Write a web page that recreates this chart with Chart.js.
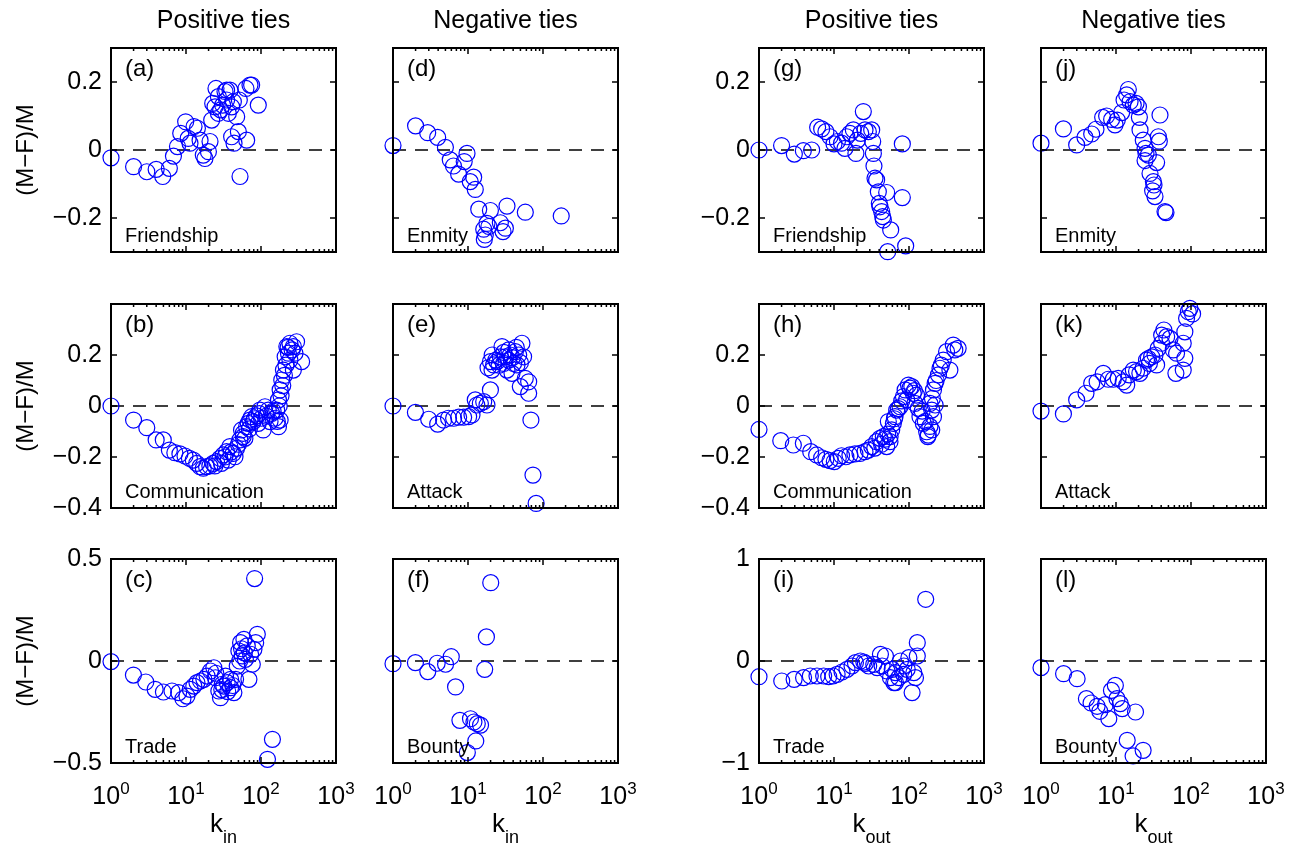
<!DOCTYPE html>
<html>
<head>
<meta charset="utf-8">
<script src="https://cdn.jsdelivr.net/npm/chart.js@4/dist/chart.umd.min.js"></script>
<style>
body { margin: 0; background: #fff; width: 1299px; height: 855px; position: relative; overflow: hidden; }
canvas { position: absolute; }
</style>
</head>
<body>
<script>
// ---- data ----
const xTicks = [1, 10, 100, 1000];
const zeroX = [1, 1000];
const zeroY = [0, 0];

// (a) friendship, k_in
const aX = [1, 2, 3, 4, 4.9, 6, 6.8, 7.7, 8.5, 9.9, 11.3, 10.7, 12.8, 14.2, 15.4, 17, 17.9, 19.9, 20.9, 22, 22.7, 25.1, 27, 29, 30.8, 33.1, 34.8, 36.7, 38.6, 40.6, 42.8, 47.4, 51.4, 40.6, 43.7, 49.9, 64.4, 52.5, 63, 71.3, 75, 92, 27, 24.4, 34.8];
const aY = [-0.023, -0.049, -0.064, -0.057, -0.078, -0.054, -0.018, 0.01, 0.049, 0.083, 0.02, 0.034, 0.069, 0.064, 0.029, -0.015, -0.025, -0.005, 0.025, 0.088, 0.137, 0.181, 0.157, 0.118, 0.132, 0.172, 0.147, 0.108, 0.176, 0.127, 0.142, 0.098, 0.147, 0.039, 0.02, 0.054, 0.029, -0.078, 0.181, 0.191, 0.191, 0.132, 0.108, 0.127, 0.176];
// (d) enmity, k_in
const dX = [1, 2, 2.9, 3.94, 5, 5.8, 6.4, 7.5, 8.9, 9.7, 10.7, 11.9, 12.5, 13.9, 16.2, 17, 16.5, 17.9, 19.9, 19, 27, 29.3, 31.5, 33.1, 58.1, 175];
const dY = [0.013, 0.071, 0.051, 0.037, 0.008, -0.029, -0.047, -0.071, -0.034, -0.01, -0.093, -0.08, -0.116, -0.174, -0.233, -0.25, -0.263, -0.216, -0.178, -0.225, -0.214, -0.24, -0.23, -0.165, -0.183, -0.194];
// (g) friendship, k_out
const gX = [1, 2, 2.96, 3.9, 5.04, 6.05, 6.85, 7.8, 8.85, 10, 11.1, 12.6, 14, 14.8, 16.3, 18.1, 19.6, 20.5, 22.7, 24.6, 25.9, 28.7, 31.8, 32.8, 33.5, 34.1, 35.2, 37, 39, 40.2, 41, 43.2, 44.6, 45.5, 50.4, 57, 52, 81.5, 81.5, 90.3];
const gY = [0, 0.013, -0.012, -0.002, 0, 0.067, 0.062, 0.054, 0.039, 0.018, 0.025, 0.02, 0.005, 0.039, 0.049, 0.059, -0.01, 0.029, 0.049, 0.113, 0.059, 0.054, 0.059, 0.025, -0.01, -0.047, -0.083, -0.088, -0.123, -0.157, -0.167, -0.181, -0.196, -0.206, -0.125, -0.235, -0.299, 0.018, -0.14, -0.282];
// (j) enmity, k_out
const jX = [1, 1.99, 2.99, 3.86, 4.74, 5.41, 6.64, 7.5, 8.75, 9.7, 10.4, 11.9, 12.8, 13.9, 14.6, 15.4, 17, 18.5, 19.9, 20.5, 20.9, 23.1, 24.4, 25.1, 27, 34.8, 28.4, 31.5, 32.1, 30.8, 33.1, 36.7, 37.8, 38.6, 45, 46.4, 24.4];
const jY = [0.02, 0.062, 0.015, 0.037, 0.047, 0.061, 0.096, 0.1, 0.09, 0.074, 0.088, 0.11, 0.147, 0.162, 0.178, 0.142, 0.132, 0.137, 0.127, 0.096, 0.059, 0.029, 0.005, -0.01, -0.015, -0.037, -0.069, -0.093, -0.103, -0.12, -0.137, 0.039, 0.026, 0.103, -0.181, -0.184, -0.031];
// (b) communication, k_in
const bX = [1, 2, 3, 4, 4.98, 6, 7.1, 8.3, 9.7, 11.1, 12.5, 13.9, 15.4, 17, 18.8, 20.8, 23, 25.5, 28.3, 31.3, 34.7, 38.4, 42.6, 47.2, 52.3, 57.9, 64.2, 71.1, 78.8, 87.3, 96.7, 107, 113, 125, 139, 154, 171, 180, 171, 180, 189, 199, 210, 221, 243, 270, 284, 298, 348, 232, 243, 270, 55, 61, 67.6, 75, 92, 101.5, 132, 162, 45, 36.6, 29.7, 24.3, 33, 40, 50, 58, 70, 82, 95, 118, 145, 165, 175, 185, 195, 205, 215, 260, 230];
const bY = [0, -0.055, -0.085, -0.133, -0.133, -0.173, -0.183, -0.188, -0.196, -0.205, -0.212, -0.225, -0.238, -0.244, -0.238, -0.235, -0.225, -0.218, -0.205, -0.192, -0.179, -0.159, -0.186, -0.166, -0.133, -0.107, -0.081, -0.055, -0.061, -0.039, -0.016, -0.094, -0.003, -0.016, -0.029, -0.048, -0.081, -0.055, 0.024, 0.063, 0.102, 0.141, 0.193, 0.233, 0.246, 0.233, 0.207, 0.252, 0.174, 0.207, 0.18, 0.141, -0.094, -0.127, -0.068, -0.042, -0.068, -0.048, -0.061, -0.016, -0.199, -0.212, -0.225, -0.235, -0.2, -0.18, -0.15, -0.12, -0.09, -0.05, -0.03, -0.04, -0.02, -0.06, 0, 0.04, 0.08, 0.12, 0.16, 0.22, 0.23];
// (e) attack, k_in
const eX = [1, 1.99, 2.99, 3.94, 4.73, 5.5, 6.43, 7.5, 8.75, 10.2, 11.3, 12.5, 13.1, 14.6, 16.2, 17.9, 19.9, 19.9, 20.9, 22, 24.4, 27, 28.4, 29.9, 31.5, 33.1, 34.8, 36.6, 38.6, 42.8, 47.4, 52.4, 55.1, 49.8, 64.4, 64.4, 58, 69, 73.5, 81, 40.6, 45, 18.5, 21, 23.5, 26, 30, 35, 39, 44, 50];
const eY = [0, -0.025, -0.052, -0.071, -0.055, -0.048, -0.048, -0.044, -0.044, -0.042, -0.035, 0.024, 0.004, 0.01, 0.017, 0.004, 0.063, 0.174, 0.141, 0.161, 0.174, 0.193, 0.233, 0.167, 0.193, 0.141, 0.18, 0.2, 0.128, 0.213, 0.2, 0.246, 0.193, 0.076, 0.095, 0.05, 0.108, -0.055, -0.271, -0.382, 0.167, 0.161, 0.15, 0.2, 0.18, 0.16, 0.21, 0.22, 0.19, 0.23, 0.17];
// (h) communication, k_out
const hX = [1, 1.95, 2.87, 3.9, 4.89, 5.87, 6.85, 7.8, 8.85, 10.1, 11.4, 12.6, 14.4, 16.3, 19, 22.2, 25.9, 28.7, 31.8, 37, 41, 45.4, 50.4, 55.8, 58.8, 61.9, 65.1, 68.5, 75.9, 84.3, 88.8, 98.4, 109, 114, 120, 133, 140, 155, 172, 181, 201, 212, 223, 212, 223, 247, 259, 286, 317, 351, 389, 408, 452, 93, 126, 190, 201, 53, 35, 43, 48, 52, 56, 64, 72, 80, 103, 118, 150, 165, 178, 190, 205, 230, 270];
const hY = [-0.092, -0.136, -0.153, -0.146, -0.179, -0.192, -0.203, -0.209, -0.214, -0.218, -0.205, -0.195, -0.199, -0.192, -0.188, -0.186, -0.179, -0.173, -0.159, -0.14, -0.127, -0.12, -0.159, -0.14, -0.094, -0.068, -0.042, -0.016, -0.003, 0.037, 0.063, 0.082, 0.076, 0.05, 0.01, -0.009, -0.042, -0.068, -0.101, -0.114, -0.094, -0.042, 0.004, 0.063, 0.089, 0.122, 0.148, 0.18, 0.213, 0.141, 0.239, 0.22, 0.226, 0.024, 0.043, 0.01, -0.016, -0.061, -0.165, -0.15, -0.13, -0.11, -0.12, -0.05, -0.01, 0.02, 0.07, 0.06, -0.02, -0.06, -0.12, -0.08, 0.03, 0.1, 0.16];
// (k) attack, k_out
const kX = [1, 1.99, 2.99, 3.98, 4.74, 5.6, 6.77, 7.9, 9.2, 10.7, 12.5, 13.9, 15, 17, 18.8, 20.8, 23, 25.5, 27.9, 29.9, 33.1, 34.8, 36.6, 40.6, 43.5, 47.4, 52.5, 58, 64.2, 62.9, 78.8, 82.8, 78.8, 82.8, 87.3, 96.7, 105, 92, 27, 40.6];
const kY = [-0.02, -0.031, 0.024, 0.05, 0.089, 0.095, 0.128, 0.105, 0.105, 0.108, 0.095, 0.082, 0.122, 0.141, 0.135, 0.128, 0.148, 0.18, 0.167, 0.193, 0.2, 0.161, 0.226, 0.246, 0.298, 0.272, 0.265, 0.22, 0.207, 0.128, 0.141, 0.187, 0.246, 0.291, 0.344, 0.383, 0.361, 0.37, 0.186, 0.278];
// (c) trade, k_in
const cX = [1, 1.99, 2.91, 3.88, 5, 6.5, 7.98, 9.1, 10.3, 11.4, 12.7, 14, 15.6, 17.3, 19.1, 21.2, 23.5, 24.7, 27.4, 28.8, 31.9, 35.4, 39.3, 43.5, 45.8, 48.2, 50.7, 53.4, 59.2, 65.6, 69, 72.7, 76.6, 84.9, 89.3, 82.2, 142, 122, 56.2, 61.9, 80.5, 39.3, 33.6, 30.4, 25, 30, 36, 42, 52, 55, 60];
const cY = [-0.003, -0.069, -0.103, -0.139, -0.152, -0.147, -0.155, -0.185, -0.172, -0.139, -0.123, -0.106, -0.098, -0.09, -0.074, -0.049, -0.033, -0.082, -0.147, -0.18, -0.123, -0.106, -0.131, -0.155, -0.09, -0.025, 0.049, 0.09, 0.106, 0.074, -0.09, 0.033, -0.016, 0.09, 0.131, 0.404, -0.384, -0.482, 0.025, 0.008, 0.057, -0.09, -0.074, -0.114, -0.06, -0.14, -0.15, -0.12, 0, 0.06, 0.04];
// (f) bounty, k_in
const fX = [1, 1.99, 2.91, 3.88, 5.02, 5.98, 6.83, 7.8, 10.8, 12, 13.3, 14.7, 12.7, 9.8, 16.7, 17.6, 20.1];
const fY = [-0.013, -0.008, -0.052, -0.011, -0.016, 0.021, -0.127, -0.291, -0.283, -0.299, -0.307, -0.314, -0.392, -0.449, -0.041, 0.118, 0.384];
// (i) trade, k_out
const iX = [1, 2.01, 2.94, 3.93, 4.83, 5.93, 7.28, 8.5, 9.7, 11, 12.8, 14.9, 17.4, 19.3, 22.5, 26.2, 29, 33.9, 37.6, 41.6, 43.8, 48.5, 51, 56.6, 62.8, 66, 73.1, 77, 85.3, 94.5, 99.6, 110, 116, 122, 129, 129, 167, 66, 85, 59.7, 25];
const iY = [-0.154, -0.196, -0.18, -0.163, -0.147, -0.147, -0.147, -0.154, -0.147, -0.131, -0.108, -0.082, -0.049, -0.016, 0, -0.023, -0.049, -0.033, -0.065, 0.065, -0.049, 0.049, -0.098, -0.163, -0.212, -0.114, -0.163, 0, -0.049, -0.082, 0.033, -0.31, -0.114, -0.163, 0.049, 0.18, 0.605, -0.212, -0.131, -0.082, -0.01];
// (l) bounty, k_out
const lX = [1, 2, 3.03, 4.03, 4.65, 5.6, 6.08, 7.22, 8.02, 8.7, 9.8, 10.3, 11.4, 12.1, 18.2, 14.1, 16.9, 23];
const lY = [-0.065, -0.124, -0.173, -0.369, -0.412, -0.444, -0.493, -0.428, -0.565, -0.288, -0.239, -0.369, -0.418, -0.467, -0.5, -0.778, -0.931, -0.876];

const yTicksTop = [-0.2, 0, 0.2];
const yTicksMid = [-0.4, -0.2, 0, 0.2];
const yTicksLow = [-0.5, 0, 0.5];
const yTicksUnit = [-1, 0, 1];
const headers = ['Positive ties', 'Negative ties', 'Positive ties', 'Negative ties'];
const xTitles = ['in', 'in', 'out', 'out'];

// ---- layout ----
const FONT = '"Liberation Sans", Arial, Helvetica, sans-serif';
const plotLeft = [111, 393, 759, 1041];
const plotTop = [48, 304, 559];
const PW = 225, PH = 204, PADL = 110, PADT = 45, PADR = 20, PADB = 90;
const minorMult = [2, 3, 4, 5, 6, 7, 8, 9];

const panels = [
  { xs: aX, ys: aY, letter: '(a)', name: 'Friendship', col: 0, row: 0, yMin: -0.3, yMax: 0.3, yTicks: yTicksTop },
  { xs: dX, ys: dY, letter: '(d)', name: 'Enmity', col: 1, row: 0, yMin: -0.3, yMax: 0.3, yTicks: yTicksTop },
  { xs: gX, ys: gY, letter: '(g)', name: 'Friendship', col: 2, row: 0, yMin: -0.3, yMax: 0.3, yTicks: yTicksTop },
  { xs: jX, ys: jY, letter: '(j)', name: 'Enmity', col: 3, row: 0, yMin: -0.3, yMax: 0.3, yTicks: yTicksTop },
  { xs: bX, ys: bY, letter: '(b)', name: 'Communication', col: 0, row: 1, yMin: -0.4, yMax: 0.4, yTicks: yTicksMid },
  { xs: eX, ys: eY, letter: '(e)', name: 'Attack', col: 1, row: 1, yMin: -0.4, yMax: 0.4, yTicks: yTicksMid },
  { xs: hX, ys: hY, letter: '(h)', name: 'Communication', col: 2, row: 1, yMin: -0.4, yMax: 0.4, yTicks: yTicksMid },
  { xs: kX, ys: kY, letter: '(k)', name: 'Attack', col: 3, row: 1, yMin: -0.4, yMax: 0.4, yTicks: yTicksMid },
  { xs: cX, ys: cY, letter: '(c)', name: 'Trade', col: 0, row: 2, yMin: -0.5, yMax: 0.5, yTicks: yTicksLow },
  { xs: fX, ys: fY, letter: '(f)', name: 'Bounty', col: 1, row: 2, yMin: -0.5, yMax: 0.5, yTicks: yTicksLow },
  { xs: iX, ys: iY, letter: '(i)', name: 'Trade', col: 2, row: 2, yMin: -1, yMax: 1, yTicks: yTicksUnit },
  { xs: lX, ys: lY, letter: '(l)', name: 'Bounty', col: 3, row: 2, yMin: -1, yMax: 1, yTicks: yTicksUnit }
];

function fmt(v) {
  if (v === 0) return '0';
  return (v < 0 ? '\u2212' : '') + String(Math.abs(v));
}

// box, inward ticks, panel texts, log tick labels
const panelDecor = {
  id: 'panelDecor',
  afterDraw(chart, args, o) {
    const { ctx, chartArea: a, scales: { x, y } } = chart;
    ctx.save();
    ctx.strokeStyle = '#000';
    ctx.lineWidth = 1.5;
    ctx.beginPath();
    o.yTicks.forEach(v => {
      const py = y.getPixelForValue(v);
      ctx.moveTo(a.left, py); ctx.lineTo(a.left + 6, py);
      ctx.moveTo(a.right, py); ctx.lineTo(a.right - 6, py);
    });
    xTicks.forEach(v => {
      const px = x.getPixelForValue(v);
      ctx.moveTo(px, a.bottom); ctx.lineTo(px, a.bottom - 6);
      ctx.moveTo(px, a.top); ctx.lineTo(px, a.top + 6);
    });
    xTicks.slice(0, -1).forEach(d => minorMult.forEach(m => {
      const px = x.getPixelForValue(d * m);
      ctx.moveTo(px, a.bottom); ctx.lineTo(px, a.bottom - 3);
      ctx.moveTo(px, a.top); ctx.lineTo(px, a.top + 3);
    }));
    ctx.stroke();
    ctx.lineWidth = 2;
    ctx.strokeRect(a.left, a.top, a.width, a.height);

    ctx.fillStyle = '#000';
    ctx.textBaseline = 'alphabetic';
    ctx.textAlign = 'left';
    ctx.font = '24px ' + FONT;
    ctx.fillText(o.letter, a.left + 14, a.top + 28);
    ctx.font = '20px ' + FONT;
    ctx.fillText(o.name, a.left + 14, a.bottom - 10);

    if (o.header) {
      ctx.font = '25px ' + FONT;
      ctx.textAlign = 'center';
      ctx.fillText(o.header, (a.left + a.right) / 2, a.top - 20);
      ctx.textAlign = 'left';
    }
    if (o.xLabels) {
      xTicks.forEach(v => {
        const px = x.getPixelForValue(v);
        const e = String(Math.round(Math.log10(v)));
        ctx.font = '25px ' + FONT;
        const w1 = ctx.measureText('10').width;
        ctx.font = '17px ' + FONT;
        const w2 = ctx.measureText(e).width;
        const x0 = px - (w1 + w2) / 2;
        ctx.font = '25px ' + FONT;
        ctx.fillText('10', x0, a.bottom + 41);
        ctx.font = '17px ' + FONT;
        ctx.fillText(e, x0 + w1, a.bottom + 31);
      });
    }
    if (o.xTitle) {
      ctx.font = '26px ' + FONT;
      const w1 = ctx.measureText('k').width;
      ctx.font = '18px ' + FONT;
      const w2 = ctx.measureText(o.xTitle).width;
      const x0 = (a.left + a.right) / 2 - (w1 + w2) / 2;
      ctx.font = '26px ' + FONT;
      ctx.fillText('k', x0, a.bottom + 69);
      ctx.font = '18px ' + FONT;
      ctx.fillText(o.xTitle, x0 + w1, a.bottom + 80);
    }
    ctx.restore();
  }
};

panels.forEach(p => {
  const cv = document.createElement('canvas');
  cv.width = PADL + PW + PADR;
  cv.height = PADT + PH + PADB;
  cv.style.left = (plotLeft[p.col] - PADL) + 'px';
  cv.style.top = (plotTop[p.row] - PADT) + 'px';
  document.body.appendChild(cv);

  new Chart(cv, {
    type: 'scatter',
    data: {
      datasets: [
        {
          data: p.xs.map((v, k) => ({ x: v, y: p.ys[k] })),
          pointStyle: 'circle',
          pointRadius: 8,
          borderColor: '#0000ff',
          backgroundColor: 'rgba(0,0,0,0)',
          borderWidth: 1.2,
          clip: false
        },
        {
          data: zeroX.map((v, k) => ({ x: v, y: zeroY[k] })),
          showLine: true,
          pointRadius: 0,
          borderColor: '#000',
          borderWidth: 1.3,
          borderDash: [13, 9]
        }
      ]
    },
    options: {
      responsive: false,
      animation: false,
      devicePixelRatio: 1,
      layout: { padding: { top: PADT, right: PADR, left: 0, bottom: 0 } },
      plugins: {
        legend: { display: false },
        tooltip: { enabled: false },
        panelDecor: {
          yTicks: p.yTicks,
          letter: p.letter,
          name: p.name,
          header: p.row === 0 ? headers[p.col] : '',
          xLabels: p.row === 2,
          xTitle: p.row === 2 ? xTitles[p.col] : ''
        }
      },
      scales: {
        x: {
          type: 'logarithmic',
          min: 1,
          max: 1000,
          grid: { display: false, drawTicks: false },
          border: { display: false },
          ticks: { display: false },
          afterBuildTicks: s => { s.ticks = xTicks.map(v => ({ value: v })); },
          afterFit: s => { s.height = PADB; }
        },
        y: {
          type: 'linear',
          min: p.yMin,
          max: p.yMax,
          grid: { display: false, drawTicks: false },
          border: { display: false },
          ticks: {
            display: p.col % 2 === 0,
            padding: 9,
            color: '#000',
            font: { family: FONT, size: 25 },
            callback: v => fmt(v)
          },
          afterBuildTicks: s => { s.ticks = p.yTicks.map(v => ({ value: v })); },
          afterFit: s => { s.width = PADL; },
          title: {
            display: p.col === 0,
            text: '(M\u2212F)/M',
            color: '#000',
            font: { family: FONT, size: 24 },
            padding: { top: 10.6, bottom: 0 }
          }
        }
      }
    },
    plugins: [panelDecor]
  });
});
</script>
</body>
</html>
